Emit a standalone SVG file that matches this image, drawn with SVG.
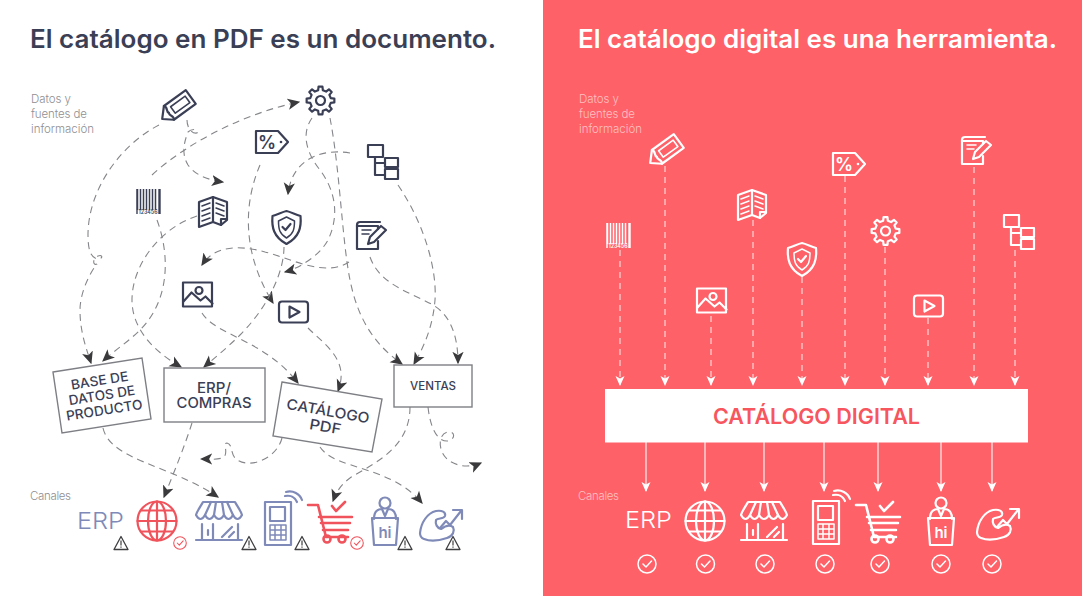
<svg xmlns="http://www.w3.org/2000/svg" width="1082" height="596" viewBox="0 0 1082 596">
<style>
text{font-family:"Inter","Open Sans","Liberation Sans",sans-serif}
.ic{fill:none;stroke:currentColor;stroke-width:2.2;stroke-linejoin:round;stroke-linecap:round}
.dk{color:#3b3f56}.bl{color:#7f8ab8}.rd{color:#f0535b}.wh{color:#fff}
.d{fill:none;stroke:#85868a;stroke-width:1.1;stroke-dasharray:7 5;marker-end:url(#ah)}
.wd{fill:none;stroke:#ffd5d5;stroke-width:1.2;stroke-dasharray:6 5;marker-end:url(#aw)}
.ws{fill:none;stroke:#ffdcdc;stroke-width:1.4;marker-end:url(#aw)}
.box{fill:#fff;stroke:#7e7f85;stroke-width:1.4}
.bt{fill:#3b3f56;font-weight:500;text-anchor:middle}
.lab{font-size:11.5px;font-weight:300}
.title{font-size:25px;font-weight:600}
</style>
<defs>
<marker id="ah" markerUnits="userSpaceOnUse" viewBox="0 0 10 10" refX="9" refY="5" markerWidth="12.500" markerHeight="12.500" orient="auto"><path d="M0,0.500L10,5L0,9.500L2.500,5Z" fill="#3a3a3c"/></marker>
<marker id="aw" markerUnits="userSpaceOnUse" viewBox="0 0 10 10" refX="9" refY="5" markerWidth="10" markerHeight="10" orient="auto"><path d="M0,0.500L10,5L0,9.500L2.500,5Z" fill="#fff"/></marker>
<g id="i-pencil" class="ic"><g transform="rotate(-36)"><path d="M-19,1L-10,-8.500H17V8.500H-10Z"/><path d="M-10,-8.500C-7,-5 -12,-3 -10,0C-12,3 -7,5 -10,8.500"/><path d="M-5,-4H13V4H-5Z" stroke-width="1.600"/></g></g>
<g id="i-gear" class="ic"><polygon points="10.23,-2.36 13.86,-1.95 13.86,1.95 10.23,2.36 8.9,5.56 11.18,8.43 8.43,11.18 5.56,8.9 2.36,10.23 1.95,13.86 -1.95,13.86 -2.36,10.23 -5.56,8.9 -8.43,11.18 -11.18,8.43 -8.9,5.56 -10.23,2.36 -13.86,1.95 -13.86,-1.95 -10.23,-2.36 -8.9,-5.56 -11.18,-8.43 -8.43,-11.18 -5.56,-8.9 -2.36,-10.23 -1.95,-13.86 1.95,-13.86 2.36,-10.23 5.56,-8.9 8.43,-11.18 11.18,-8.43 8.9,-5.56"/><circle r="4.500"/></g>
<g id="i-tag"><path class="ic" d="M-16,-11H6L16,0L6,11H-16Z"/><text x="-5" y="6.500" font-size="18" font-weight="600" text-anchor="middle" fill="currentColor">%</text><circle cx="9" cy="0" r="1.300" fill="currentColor"/></g>
<g id="i-tree" class="ic"><rect x="-14" y="-17" width="15" height="12"/><rect x="3" y="-4" width="13" height="9"/><rect x="3" y="7" width="13" height="10"/><path d="M-7,-5V13H3M-7,1H3"/></g>
<g id="i-bar"><path d="M-11.500,-12V9M-8.500,-12V9M-5.500,-12V9M-2.500,-12V9M0.500,-12V9M3.500,-12V9M6.500,-12V9" stroke="currentColor" stroke-width="1.500" fill="none"/><path d="M10.500,-12V13" stroke="currentColor" stroke-width="2.400"/><path d="M-12,-12V13" stroke="currentColor" stroke-width="1.400"/><text x="-1" y="13" font-size="5.500" font-weight="600" text-anchor="middle" fill="currentColor" textLength="19" lengthAdjust="spacingAndGlyphs">123456</text></g>
<g id="i-book" class="ic"><path d="M0,-14L-14,-9V16L0,11L8,14L14,9V-9Z"/><path d="M0,-14V11M8,14V8H14"/><path d="M-11,-5L-3,-8M-11,0L-3,-3M-11,5L-3,2M-11,10L-3,7M3,-8L11,-5M3,-3L11,0M3,2L11,5" stroke-width="1.500"/></g>
<g id="i-shield" class="ic"><path d="M-14,-11C-8,-13 -4,-15 0,-16C4,-15 8,-13 14,-11C15,0 13,10 0,17C-13,10 -15,0 -14,-11Z"/><path d="M-8,-6C-4,-8 -2,-9 0,-10C2,-9 4,-8 8,-6C8,2 7,7 0,11C-7,7 -8,2 -8,-6Z" stroke-width="1.500"/><path d="M-4,0L-1,3L4,-3"/></g>
<g id="i-note" class="ic"><path d="M9,-14H-11Q-14,-14 -14,-11V13H7V5"/><path d="M-14,-10H7V-7"/><path d="M-9,-6H0M-9,-2H-2" stroke-width="1.500"/><path d="M-3,8L-1,1L10,-10L15,-6L3,6Z"/></g>
<g id="i-img" class="ic"><rect x="-14.500" y="-12" width="29" height="24"/><circle cx="1.500" cy="-4" r="3.500"/><path d="M-14,7L-6,-2L3,6L8,2L15,9"/></g>
<g id="i-video" class="ic"><rect x="-14.500" y="-10" width="29" height="21" rx="3"/><path d="M-4,-5L6,0.500L-4,6Z"/></g>
<g id="i-globe" class="ic"><circle r="19.500"/><ellipse rx="9" ry="19.500"/><path d="M0,-19.500V19.500M-19.500,0H19.500M-16,-10.500H16M-16,10.500H16"/></g>
<g id="i-store" class="ic"><path d="M-23,-6C-22,-10 -18,-15 -16,-19H16C18,-15 22,-10 23,-6Q18.500,2 14,-6Q9.500,2 5,-6Q0,2 -5,-6Q-9.500,2 -14,-6Q-18.500,2 -23,-6Z"/><path d="M-14,-6L-8,-19M-5,-6L-3,-19M5,-6L3,-19M14,-6L8,-19M-23,19H23M-17,3V19M19,3V19M-6,3V19M-11,9V14M3,16L13,6M10,16L15,11"/></g>
<g id="i-phone" class="ic"><rect x="-13" y="-22" width="26" height="43"/><rect x="-8" y="-17" width="15" height="14"/><path d="M-8,1H8V16H-8ZM-8,6H8M-8,11H8M-3,1V16M3,1V16" stroke-width="1.500"/><path d="M7,-28C12,-29 17,-27 19,-22M8,-32C15,-34 22,-30 24,-24"/></g>
<g id="i-cart" class="ic"><path d="M-22,-19H-12L-4,13H18M-11,-7H22M-9,-1H20M-7,6H18" stroke-width="2.600"/><circle cx="-3" cy="15" r="3.500" stroke-width="2.600"/><circle cx="12" cy="15" r="3.500" stroke-width="2.600"/><path d="M2,-18L6,-13L15,-22" stroke-width="2.600"/></g>
<g id="i-hi"><path class="ic" d="M-11,-3C-11,-11 -7,-13 -3,-13L0,-6L3,-13C7,-13 11,-11 11,-3"/><circle class="ic" cy="-19" r="5.500"/><path class="ic" d="M-13,-4H13L11,23H-11Z"/><text y="16" font-size="15" font-weight="600" text-anchor="middle" fill="currentColor">hi</text></g>
<g id="i-arm" class="ic"><path d="M-21,8C-20,-2 -14,-12 -5,-14C1,-15 5,-13 4,-9C3,-6 -3,-7 -5,-5C-6,-1 -4,3 0,4C4,1 8,-1 12,2C14,6 12,11 6,13C-3,16 -12,16 -17,14C-20,13 -21,11 -21,8Z"/><path d="M-1,3L5,-4L9,0L20,-14M12,-15H21V-6"/></g>
<g id="i-warn"><path d="M0,-6.500L7,6.500H-7Z" fill="none" stroke="#3f3f42" stroke-width="1.300" stroke-linejoin="round"/><path d="M0,-2.500V2.500M0,3.600V4.800" stroke="#3f3f42" stroke-width="1.200"/></g>
<g id="i-ok" fill="none" stroke="currentColor" stroke-linecap="round" stroke-linejoin="round"><circle r="9" stroke-width="1.500"/><path d="M-4,0L-1,3L4.500,-3" stroke-width="1.500"/></g>
</defs>

<rect width="1082" height="596" fill="#fff"/>
<rect x="543" width="539" height="596" fill="#ff6168"/>

<text class="title" x="30" y="48" fill="#3b3f56" textLength="466" lengthAdjust="spacingAndGlyphs">El catálogo en PDF es un documento.</text>
<text class="title" x="578" y="48" fill="#fff" textLength="479" lengthAdjust="spacingAndGlyphs">El catálogo digital es una herramienta.</text>
<g class="lab" fill="#8f8f93"><text x="31" y="103" textLength="40">Datos y</text><text x="31" y="118" textLength="56">fuentes de</text><text x="31" y="133" textLength="63">información</text><text x="30" y="500" textLength="41">Canales</text></g>
<g class="lab" fill="#ffc0c0"><text x="579" y="103" textLength="40">Datos y</text><text x="579" y="118" textLength="56">fuentes de</text><text x="579" y="133" textLength="63">información</text><text x="578" y="500" textLength="41">Canales</text></g>

<g id="connectors">
<path class="d" d="M159,125C120,145 88,190 88,235C88,248 90,258 98,259C103,259 103,254 98,256C92,259 93,266 97,264C88,275 80,295 80,310C80,330 85,345 91,363"/>
<path class="d" d="M187,120C187,128 192,134 197,133C199,129 192,128 188,132C183,145 182,155 188,165C195,175 208,180 223,182"/>
<path class="d" d="M152,175C190,140 250,112 299,102"/>
<path class="d" d="M157,220C170,255 170,300 140,330C128,342 115,350 103,361"/>
<path class="d" d="M197,216C160,228 132,265 132,300C132,330 155,352 181,367"/>
<path class="d" d="M260,165C245,200 240,250 273,303"/>
<path class="d" d="M350,153C320,148 292,160 288,194"/>
<path class="d" d="M312,118C300,135 308,155 320,170C335,190 340,215 328,240C320,255 300,268 285,272"/>
<path class="d" d="M330,118C340,170 342,240 350,280C358,320 375,345 402,364"/>
<path class="d" d="M398,185C425,225 437,270 435,300C433,325 425,345 414,364"/>
<path class="d" d="M370,257C380,285 410,292 433,305C450,315 458,335 458,363"/>
<path class="d" d="M349,262C325,278 290,258 265,252C240,245 215,245 202,265"/>
<path class="d" d="M284,247C284,270 270,305 240,335C228,347 218,355 204,367"/>
<path class="d" d="M202,313C215,335 265,340 298,383"/>
<path class="d" d="M308,328C325,345 350,360 338,391"/>
<path class="d" d="M103,428C110,460 170,465 218,497"/>
<path class="d" d="M192,423C185,445 175,470 164,497"/>
<path class="d" d="M282,438C277,458 250,470 236,459C230,454 233,444 227,443C222,443 230,455 222,458C216,460 210,459 201,459"/>
<path class="d" d="M320,447C335,470 390,465 422,503"/>
<path class="d" d="M410,407C410,450 370,465 350,478C342,484 337,490 333,501"/>
<path class="d" d="M428,407C430,425 436,442 448,441C456,439 455,431 448,432C441,433 438,442 442,452C447,464 465,470 481,463"/>
<path class="wd" d="M620,250V385"/><path class="wd" d="M665,166V385"/><path class="wd" d="M711,316V385"/><path class="wd" d="M753,220V385"/><path class="wd" d="M802,277V385"/><path class="wd" d="M845,176V385"/><path class="wd" d="M885,247V385"/><path class="wd" d="M928,318V385"/><path class="wd" d="M974,167V385"/><path class="wd" d="M1015,250V385"/>
<path class="ws" d="M646,442V491"/><path class="ws" d="M705,442V491"/><path class="ws" d="M764,442V491"/><path class="ws" d="M824,442V491"/><path class="ws" d="M878,442V491"/><path class="ws" d="M941,442V491"/><path class="ws" d="M992,442V491"/>
</g>

<g id="l-sources" class="dk">
<g id="l-pencil"><use href="#i-pencil" x="177" y="107"/></g>
<g id="l-gear"><use href="#i-gear" x="320.500" y="100.500"/></g>
<g id="l-tag"><use href="#i-tag" x="272" y="142"/></g>
<g id="l-tree"><use href="#i-tree" x="382" y="162"/></g>
<g id="l-bar"><use href="#i-bar" x="149" y="201"/></g>
<g id="l-book"><use href="#i-book" x="213" y="211"/></g>
<g id="l-shield"><use href="#i-shield" x="286.500" y="227"/></g>
<g id="l-note"><use href="#i-note" x="371" y="236"/></g>
<g id="l-img"><use href="#i-img" x="197.500" y="294.500"/></g>
<g id="l-video"><use href="#i-video" x="293.500" y="311.500"/></g>
</g>

<g id="n-base"><polygon class="box" points="53,372 142,358 151,419 62,433"/><g transform="translate(102,396) rotate(-9)"><text class="bt" font-size="13.500" y="-11" textLength="58" lengthAdjust="spacingAndGlyphs">BASE DE</text><text class="bt" font-size="13.500" y="4" textLength="67" lengthAdjust="spacingAndGlyphs">DATOS DE</text><text class="bt" font-size="13.500" y="19" textLength="77" lengthAdjust="spacingAndGlyphs">PRODUCTO</text></g></g>
<g id="n-erp"><rect class="box" x="164" y="368" width="101" height="54"/><text class="bt" font-size="14.500" x="214" y="393" textLength="34" lengthAdjust="spacingAndGlyphs">ERP/</text><text class="bt" font-size="14.500" x="214" y="408" textLength="75" lengthAdjust="spacingAndGlyphs">COMPRAS</text></g>
<g id="n-pdf"><polygon class="box" points="282,382 382,399 372,452 273,436"/><g transform="translate(327,417) rotate(10)"><text class="bt" font-size="14.500" y="-1" textLength="84" lengthAdjust="spacingAndGlyphs">CATÁLOGO</text><text class="bt" font-size="14.500" y="15" textLength="32" lengthAdjust="spacingAndGlyphs">PDF</text></g></g>
<g id="n-ventas"><rect class="box" x="394" y="365" width="78" height="42"/><text class="bt" font-size="11.500" x="433" y="390" textLength="46" lengthAdjust="spacingAndGlyphs">VENTAS</text></g>

<g id="l-channels">
<g id="l-erp"><text x="77" y="528.500" font-size="22.500" font-weight="300" fill="#7f8ab8" textLength="47" lengthAdjust="spacingAndGlyphs">ERP</text><use href="#i-warn" x="121" y="543"/></g>
<g id="l-web" class="rd"><use href="#i-globe" x="157" y="521"/><use href="#i-ok" x="180" y="543" transform="translate(180,543) scale(.7) translate(-180,-543)"/></g>
<g id="l-store" class="bl"><use href="#i-store" x="219" y="521"/><use href="#i-warn" x="249" y="543"/></g>
<g id="l-phone" class="bl"><use href="#i-phone" x="278" y="524"/><use href="#i-warn" x="302" y="543"/></g>
<g id="l-cart" class="rd"><use href="#i-cart" x="330" y="524"/><use href="#i-ok" x="357" y="543" transform="translate(357,543) scale(.7) translate(-357,-543)"/></g>
<g id="l-hi" class="bl"><use href="#i-hi" x="385" y="522"/><use href="#i-warn" x="405" y="543"/></g>
<g id="l-arm" class="bl"><use href="#i-arm" x="441" y="525"/><use href="#i-warn" x="453" y="543"/></g>
</g>

<g id="r-sources" class="wh">
<g id="r-bar"><use href="#i-bar" x="619" y="235"/></g>
<g id="r-pencil"><use href="#i-pencil" x="665" y="151"/></g>
<g id="r-book"><use href="#i-book" x="752" y="204"/></g>
<g id="r-img"><use href="#i-img" x="711.500" y="300.500"/></g>
<g id="r-shield"><use href="#i-shield" x="802" y="259"/></g>
<g id="r-tag"><use href="#i-tag" x="849" y="164"/></g>
<g id="r-gear"><use href="#i-gear" x="885.500" y="231"/></g>
<g id="r-video"><use href="#i-video" x="928.500" y="305.500"/></g>
<g id="r-note"><use href="#i-note" x="976" y="151"/></g>
<g id="r-tree"><use href="#i-tree" x="1018" y="232"/></g>
</g>

<g id="r-catalog"><rect x="605" y="389" width="423" height="53.500" fill="#fff"/><text x="816.500" y="424" font-size="21.500" font-weight="600" text-anchor="middle" fill="#f7565e" textLength="207" lengthAdjust="spacingAndGlyphs">CATÁLOGO DIGITAL</text></g>

<g id="r-channels" class="wh">
<g id="r-erp"><text x="625" y="528" font-size="22.500" font-weight="300" fill="#fff" textLength="47" lengthAdjust="spacingAndGlyphs">ERP</text><use href="#i-ok" x="647" y="564"/></g>
<g id="r-web"><use href="#i-globe" x="705" y="521"/><use href="#i-ok" x="705.500" y="564"/></g>
<g id="r-store"><use href="#i-store" x="764" y="521"/><use href="#i-ok" x="765" y="564"/></g>
<g id="r-phone"><use href="#i-phone" x="826" y="523"/><use href="#i-ok" x="825" y="564"/></g>
<g id="r-cart"><use href="#i-cart" x="878" y="524"/><use href="#i-ok" x="880" y="564"/></g>
<g id="r-hi"><use href="#i-hi" x="941" y="522"/><use href="#i-ok" x="941" y="564"/></g>
<g id="r-arm"><use href="#i-arm" x="998" y="524"/><use href="#i-ok" x="992" y="564"/></g>
</g>
</svg>
